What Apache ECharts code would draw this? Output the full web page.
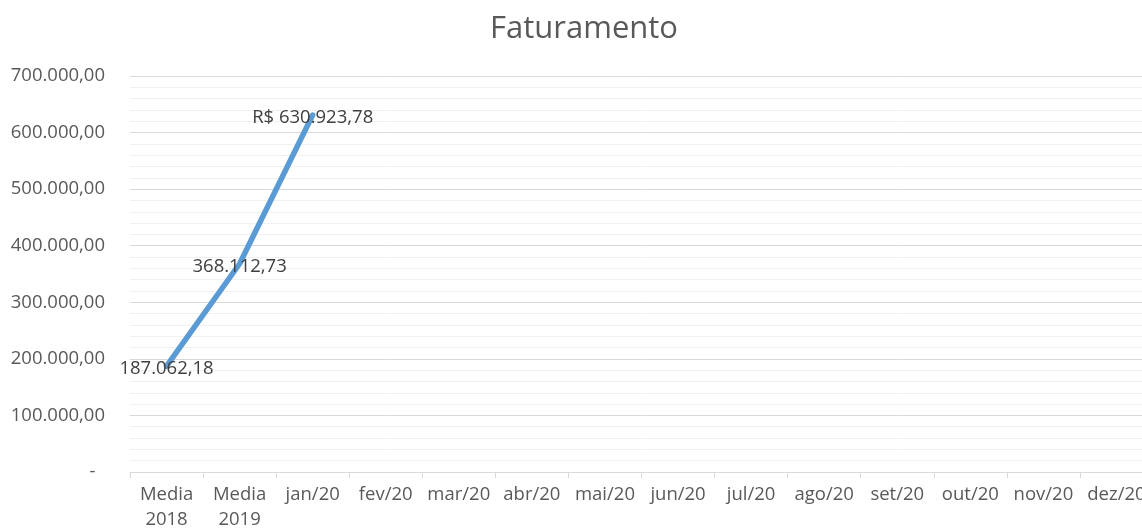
<!DOCTYPE html>
<html>
<head>
<meta charset="utf-8">
<script src="https://cdn.jsdelivr.net/npm/echarts@6/dist/echarts.min.js"></script>
<style>
  html, body { margin: 0; padding: 0; background: #fff; overflow: hidden; }
  #chart { width: 1168px; height: 532px; }
</style>
</head>
<body>
<div id="chart"></div>
<script>
// dados do gráfico
const categorias = ['Media\n2018', 'Media\n2019', 'jan/20', 'fev/20', 'mar/20', 'abr/20', 'mai/20',
  'jun/20', 'jul/20', 'ago/20', 'set/20', 'out/20', 'nov/20', 'dez/20']
const faturamento = [187062.18, 368112.73, 630923.78, null, null, null, null,
  null, null, null, null, null, null, null]
const prefixos = ['', '', 'R$ ']
const yTicks = [0, 100000, 200000, 300000, 400000, 500000, 600000, 700000]

const fonte = '"Open Sans", "Liberation Sans", sans-serif'

// formata numero no padrão brasileiro
function formatBR(v) {
  const partes = v.toFixed(2).split('.')
  const inteiro = partes[0].replace(/\B(?=(\d{3})+(?!\d))/g, '.')
  return inteiro + ',' + partes[1]
}

const chart = echarts.init(document.getElementById('chart'))

const option = {
  animation: false,
  title: {
    text: 'Faturamento',
    left: 'center',
    top: 9,
    textStyle: {
      fontFamily: fonte,
      fontSize: 31,
      fontWeight: 'normal',
      color: '#595959'
    }
  },
  grid: {
    left: 130,
    top: 76,
    right: 15,
    bottom: 58,
    containLabel: false
  },
  xAxis: {
    type: 'category',
    data: categorias,
    boundaryGap: true,
    axisLine: {
      lineStyle: { color: '#d9d9d9', width: 1 }
    },
    axisTick: {
      show: true,
      length: 6,
      lineStyle: { color: '#d9d9d9' }
    },
    axisLabel: {
      interval: 0,
      margin: 10,
      fontFamily: fonte,
      fontSize: 18.5,
      lineHeight: 25,
      color: '#595959'
    },
    splitLine: { show: false }
  },
  yAxis: {
    type: 'value',
    min: yTicks[0],
    max: yTicks[yTicks.length - 1],
    interval: 100000,
    axisLine: { show: false },
    axisTick: { show: false },
    axisLabel: {
      margin: 25,
      fontFamily: fonte,
      fontSize: 18.5,
      color: '#595959',
      formatter: function (v) {
        return v === 0 ? '-  ' : formatBR(v)
      }
    },
    splitLine: {
      lineStyle: { color: '#d9d9d9', width: 1 }
    },
    minorTick: { show: false, splitNumber: 5 },
    minorSplitLine: {
      show: true,
      lineStyle: { color: '#f0f0f0', width: 1 }
    }
  },
  series: [{
    type: 'line',
    data: faturamento,
    symbol: 'circle',
    symbolSize: 1,
    showSymbol: true,
    itemStyle: { color: 'rgba(91,155,213,0)' },
    lineStyle: { color: '#5b9bd5', width: 5.5, cap: 'round' },
    label: {
      show: true,
      position: 'inside',
      offset: [0, 3],
      fontFamily: fonte,
      fontSize: 18.5,
      color: '#404040',
      formatter: function (p) {
        return (prefixos[p.dataIndex] || '') + formatBR(p.value)
      }
    }
  }]
}

chart.setOption(option)
</script>
</body>
</html>
